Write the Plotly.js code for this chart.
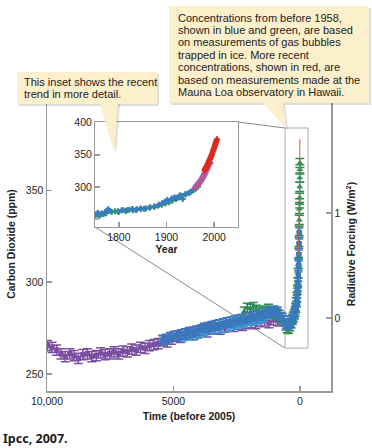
<!DOCTYPE html>
<html><head><meta charset="utf-8">
<script src="https://cdn.plot.ly/plotly-3.0.1.min.js"></script>
<style>html,body{margin:0;padding:0;background:#fff}#chart{width:372px;height:448px}</style>
</head><body><div id="chart"></div>
<script>
// ---- Main chart data: time (years before 2005) and CO2 (ppm) ----
const purpleTime = [9980,9800,9620,9450,9280,9100,8930,8760,8580,8400,8230,8050,7880,7700,7520,7350,7170,7000,6820,6650,6470,6300,6120,5950,5770,5600,5420,5250,5070,4900,4720,4550,4370,4200,4020,3850,3670,3500,3320,3150,2970,2800,2620,2450,2270,2100,1920,1750,1570,1400,1220,1050,870,700];
const purpleCO2  = [265.5,264.5,263,261,259.5,261,260,258.5,260.5,261,259.5,260,261.5,260.5,261,262,261,262.5,262,263.5,263,264.5,264,265.5,266,266.5,268,267.5,269,270.5,270,271.5,272.5,271.5,273,274,273,274.5,275,274.5,275.5,276.5,276,277,276.5,277.5,278,277.5,278.5,279,278,279.5,279,280];

const blueTime = [5450,5300,5150,5000,4850,4700,4550,4400,4250,4100,3950,3800,3650,3500,3350,3200,3050,2900,2750,2600,2450,2300,2150,2000,1850,1700,1550,1400,1250,1100,1000,900,800,700,620,550,480,420,360,300,250,210,180,150,125,100,80,65,50,40,30,22];
const blueCO2  = [268.5,269,270,270.5,271,271.5,272,272.5,273,273.5,274,275,275.5,276,276.5,277,277.5,278,278.5,279,279.5,280,280.5,281,281.5,282,282,283,283.5,284,284.5,283.5,282,280.5,279,277.5,277,277.5,278.5,280,281.5,283,285,287,290,294,298,303,309,315,321,327];

const cyanTime = [4600,4300,4000,3700,3400,3100,2800,2600,2400,2200,2000,1800,1600,1400,1200,1000,850,700,560,430,330,250,190,140,100,70,45];
const cyanCO2  = [270,270.5,271.5,272.5,274,274.5,275.5,276.5,277,277.5,278.5,279,279.5,280.5,282,283.5,284.5,281,277.5,276.5,277.5,280,283,286,291,299,311];

const greenTime = [2200,2080,1960,1840,1720,1600,1480,1360,1240,1120,1000,880,760,650,560,500,450,400,350,300,260,220,190,165,140,120,100,85,70,58,48,38,30,23,17,12,9,7,5,3,1];
const greenCO2  = [284,286,285.5,286.5,285,284,283.5,284.5,285.5,284,283,282.5,281,279,276.5,275,274.5,276,277.5,279.5,281,282.5,284,286,289,292,296,300,305,310,316,322,328,334,340,343,346,352,357,361.5,365];

const redTime = [47,40,35,30,25,20,15,10,5,0];
const redCO2  = [315,320,325.5,331,338.5,346,354,360.5,369,378];

// ---- Inset data: year and CO2 (ppm) ----
const insetBlueYear = [1751,1756,1761,1766,1771,1775,1778,1781,1798,1806,1818,1828,1836,1845,1853,1864,1874,1884,1891,1896,1901,1906,1911,1917,1922,1928,1934,1940,1948,1955];
const insetBlueCO2  = [257,259.5,256,258,260.5,263,265,262.5,262,263.5,264,265.5,264,266.5,266,268,269.5,272,274.5,277,279.5,278,282,284,282.5,287,281,289,291,295];
const insetGreenYear = [1750,1754,1758,1763,1768,1773,1785,1792,1800,1810,1815,1822,1830,1838,1847,1857,1866,1875,1882,1890,1898,1905,1912,1920,1926,1933,1940,1946,1952,1957,1962,1966];
const insetGreenCO2  = [255.5,257,256,258.5,257.5,259,261,262,261,263.5,262.5,264.5,263.5,265,265.5,266.5,268,269,270.5,272,274,276,278.5,281,283.5,286,288,290,292.5,295,297.5,300];
const insetMagYear = [1960,1961,1962,1963,1964,1965,1966,1967,1968,1969,1970,1971,1972,1973,1974,1975,1976,1977,1978,1979,1980,1981,1982,1983,1984,1985,1986,1987,1988,1989,1990,1991,1992];
const insetMagCO2  = [298,301,299.5,302.5,301,304,302.5,306,304.5,308,306.5,310,308.5,312,311,314.5,313,317,316,320,319,323,322,326,325.5,329,328.5,332.5,332,335.5,335,338,337];
const insetRedYear = [1980,1981,1982,1983,1984,1985,1986,1987,1988,1989,1990,1991,1992,1993,1994,1995,1996,1997,1998,1999,2000,2001,2002,2003,2004,2005,2006];
const insetRedCO2  = [326,328.5,328,331,330.5,333.5,334,336.5,338,340,341,343.5,344,346.5,348,350.5,352,354.5,357,358.5,361,363,365.5,367.5,370,372,374];

// ---- Tick labels ----
const mainXTicks = [10000, 5000, 0];
const mainXTickText = ['10,000', '5000', '0'];
const mainYTicks = [250, 300, 350];
const forcingTicks = [0, 1];
const insetXTicks = [1800, 1900, 2000];
const insetYTicks = [300, 350, 400];
const insetUnlabeledTick = 250;

const callout1Lines = ['This inset shows the recent', 'trend in more detail.'];
const callout2Lines = ['Concentrations from before 1958,', 'shown in blue and green, are based', 'on measurements of gas bubbles', 'trapped in ice. More recent', 'concentrations, shown in red, are', 'based on measurements made at the', 'Mauna Loa observatory in Hawaii.'];

// ---- Layout helpers (pixel -> paper) ----
const L = 47, R = 331, T = 97, B = 391;
const px = x => (x - L) / (R - L);
const py = y => (B - y) / (B - T);
const FONT = 'Liberation Sans, Arial, Helvetica, sans-serif';
const AX = '#9a9a9a';

const PURPLE = '#7b4fa2', BLUE = '#3a78bb', CYAN = '#2ea3d8', GREEN = '#2c8c4f', RED = '#d9583f';
const IBLUE = '#3a7cc0', IGREEN = '#2a9a55', IMAG = '#b3589e', IRED = '#dc2a1e';

function errSeries(x, y, color, symbol, size, err, w) {
  return {x, y, type: 'scatter', mode: 'markers', xaxis: 'x', yaxis: 'y', hoverinfo: 'skip',
    marker: {color, symbol, size, line: {width: 0}},
    error_y: {type: 'constant', value: err, width: w, thickness: 1.5, color}};
}
function insetSeries(x, y, color) {
  return {x, y, type: 'scatter', mode: 'markers', xaxis: 'x3', yaxis: 'y3', hoverinfo: 'skip',
    marker: {color, symbol: 'cross', size: 5, line: {width: 0}},
    error_y: {type: 'constant', value: 1.6, width: 1.5, thickness: 1, color}};
}

const traces = [
  errSeries(purpleTime, purpleCO2, PURPLE, 'square', 5.5, 2.8, 4.5),
  errSeries(cyanTime, cyanCO2, CYAN, 'square', 4.5, 2, 3.5),
  errSeries(greenTime, greenCO2, GREEN, 'triangle-up', 6, 2.5, 4.5),
  errSeries(blueTime, blueCO2, BLUE, 'square', 5.5, 2.6, 4),
  {x: redTime, y: redCO2, type: 'scatter', mode: 'lines', xaxis: 'x', yaxis: 'y', hoverinfo: 'skip',
   line: {color: RED, width: 1}},
  {x: [], y: [], type: 'scatter', mode: 'markers', xaxis: 'x', yaxis: 'y2', showlegend: false},
  insetSeries(insetGreenYear, insetGreenCO2, IGREEN),
  insetSeries(insetBlueYear, insetBlueCO2, IBLUE),
  insetSeries(insetMagYear, insetMagCO2, IMAG),
  insetSeries(insetRedYear, insetRedCO2, IRED)
];

const tickFont = {family: FONT, size: 10.5, color: '#222'};
const axisBase = {showgrid: false, zeroline: false, showline: true, linecolor: AX, linewidth: 1.5,
  ticks: 'inside', ticklen: 5, tickwidth: 1.5, tickcolor: AX, tickfont: tickFont};

const CALLOUT = '#fcefcb', SHADOW = 'rgba(0,0,0,0.13)';
function rect(x0, y0, x1, y1, fill) {
  return {type: 'rect', xref: 'paper', yref: 'paper', layer: 'above', x0: px(x0), x1: px(x1), y0: py(y1), y1: py(y0),
    fillcolor: fill, line: {width: 0}};
}
function poly(pts, fill) {
  const d = pts.map((p, i) => (i ? 'L' : 'M') + px(p[0]).toFixed(5) + ',' + py(p[1]).toFixed(5)).join(' ') + ' Z';
  return {type: 'path', xref: 'paper', yref: 'paper', layer: 'above', path: d, fillcolor: fill, line: {width: 0}};
}
function seg(x0, y0, x1, y1, color) {
  return {type: 'line', xref: 'paper', yref: 'paper', layer: 'below', x0: px(x0), y0: py(y0), x1: px(x1), y1: py(y1),
    line: {color, width: 1}};
}

const shapes = [
  // unlabeled inset tick at 250 ppm
  {type: 'line', xref: 'x3', yref: 'y3', layer: 'above', x0: 1750, x1: 1760.5, y0: insetUnlabeledTick, y1: insetUnlabeledTick,
   line: {color: AX, width: 1.5}},
  // zoom box and connecting lines
  {type: 'rect', xref: 'x', yref: 'y', layer: 'below', x0: 589, x1: -321, y0: 264.1, y1: 384.1, line: {color: '#aaaaaa', width: 1}},
  seg(95, 227, 285, 348, '#8a8a8a'),
  seg(238, 122, 285, 128, '#8a8a8a'),
  // callout 1
  rect(19, 74, 159, 106, SHADOW),
  poly([[102, 104], [120, 104], [116, 153]], SHADOW),
  rect(17, 72, 157, 104, CALLOUT),
  poly([[100, 103.5], [118, 103.5], [114, 152]], CALLOUT),
  // callout 2
  rect(171, 8, 371, 105, SHADOW),
  poly([[265, 104], [285, 104], [288, 130]], SHADOW),
  rect(169, 6, 369, 103, CALLOUT),
  poly([[263, 102.5], [283, 102.5], [286, 128]], CALLOUT)
];

const annotations = [];
callout1Lines.forEach((t, i) => annotations.push({xref: 'paper', yref: 'paper', x: px(22), y: py(82.5 + 12 * i),
  xanchor: 'left', yanchor: 'middle', showarrow: false, text: t, font: {family: FONT, size: 11, color: '#222'}}));
callout2Lines.forEach((t, i) => annotations.push({xref: 'paper', yref: 'paper', x: px(175.5), y: py(17.5 + 12.5 * i),
  xanchor: 'left', yanchor: 'middle', showarrow: false, text: t, font: {family: FONT, size: 11, color: '#222'}}));
annotations.push({xref: 'paper', yref: 'paper', x: px(1), y: py(438), xanchor: 'left', yanchor: 'middle', showarrow: false,
  text: '<b>Ipcc, 2007.</b>', font: {family: 'Noto Sans, Open Sans, sans-serif', size: 12.5, color: '#1a1a1a'}});

const layout = {
  width: 372, height: 448,
  margin: {l: L, r: 372 - R, t: T, b: 448 - B},
  paper_bgcolor: '#ffffff', plot_bgcolor: 'rgba(0,0,0,0)',
  showlegend: false,
  font: {family: FONT, color: '#222'},
  xaxis: Object.assign({}, axisBase, {range: [10000, -1230], tickvals: mainXTicks, ticktext: mainXTickText,
    anchor: 'y', domain: [0, 1],
    title: {text: '<b>Time (before 2005)</b>', font: {family: FONT, size: 10.5, color: '#222'}, standoff: 6}}),
  yaxis: Object.assign({}, axisBase, {range: [240.7, 401], tickvals: mainYTicks, anchor: 'x', domain: [0, 1],
    title: {text: '<b>Carbon Dioxide (ppm)</b>', font: {family: FONT, size: 10.5, color: '#222'}, standoff: 8}}),
  yaxis2: Object.assign({}, axisBase, {range: [-0.695, 2.105], tickvals: forcingTicks, overlaying: 'y', side: 'right', anchor: 'x',
    title: {text: '<b>Radiative Forcing (W/m<sup>2</sup>)</b>', font: {family: FONT, size: 10.5, color: '#222'}, standoff: 8}}),
  xaxis3: Object.assign({}, axisBase, {range: [1750, 2050], tickvals: insetXTicks, anchor: 'y3',
    domain: [px(95), px(238)], mirror: true, linewidth: 1,
    title: {text: '<b>Year</b>', font: {family: FONT, size: 10.5, color: '#222'}, standoff: 4}}),
  yaxis3: Object.assign({}, axisBase, {range: [237.5, 401], tickvals: insetYTicks, anchor: 'x3',
    domain: [py(227), py(122)], mirror: true, linewidth: 1}),
  shapes, annotations
};

Plotly.newPlot('chart', traces, layout, {staticPlot: true, displayModeBar: false});
</script></body></html>
